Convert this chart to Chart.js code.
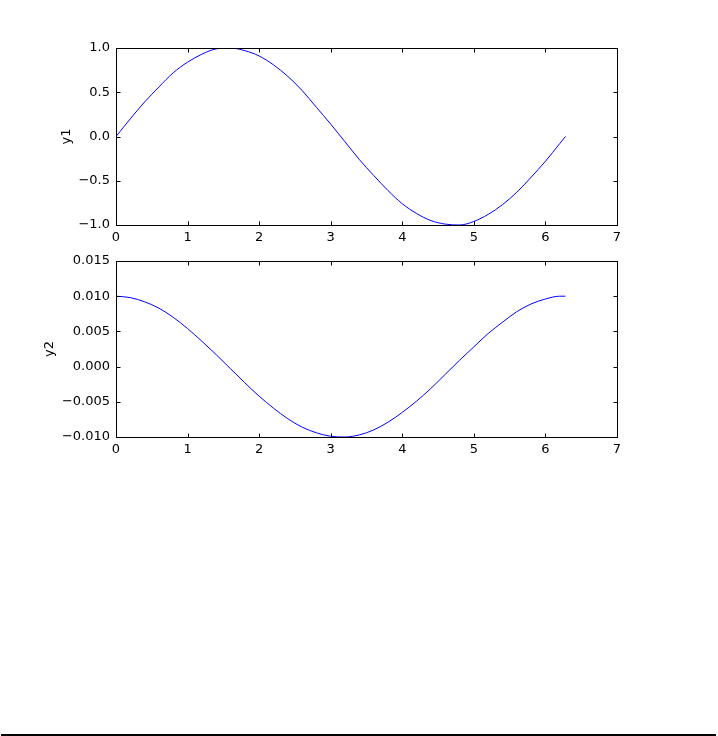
<!DOCTYPE html>
<html>
<head>
<meta charset="utf-8">
<script src="https://cdn.jsdelivr.net/npm/chart.js@4/dist/chart.umd.min.js"></script>
<style>
  html, body { margin: 0; padding: 0; background: #fff; }
  #wrap { position: relative; width: 718px; height: 736px; overflow: hidden; background: #fff; }
  #c1 { position: absolute; left: 0; top: 0; }
  #c2 { position: absolute; left: 0; top: 245px; }
  #rule { position: absolute; left: 1px; top: 734px; width: 715px; height: 2px; background: #000; }
</style>
</head>
<body>
<div id="wrap">
  <canvas id="c1" width="718" height="245"></canvas>
  <canvas id="c2" width="718" height="230"></canvas>
  <div id="rule"></div>
</div>
<script>
// ---- data ----
const xValues = [0, 0.2, 0.4, 0.6, 0.8, 1.0, 1.2, 1.4, 1.6, 1.8, 2.0, 2.2, 2.4, 2.6, 2.8, 3.0,
                 3.2, 3.4, 3.6, 3.8, 4.0, 4.2, 4.4, 4.6, 4.8, 5.0, 5.2, 5.4, 5.6, 5.8, 6.0, 6.2, 6.28];
const y1Values = [0.00, 0.20, 0.39, 0.56, 0.72, 0.84, 0.93, 0.99, 1.00, 0.97, 0.91, 0.81, 0.68, 0.52, 0.33, 0.14,
                  -0.06, -0.26, -0.44, -0.61, -0.76, -0.87, -0.95, -0.99, -1.00, -0.96, -0.88, -0.77, -0.63, -0.46, -0.28, -0.08, 0.00];
const y2Values = [0.0100, 0.0098, 0.0092, 0.0083, 0.0070, 0.0054, 0.0036, 0.0017, -0.0003, -0.0023, -0.0042, -0.0059, -0.0074, -0.0086, -0.0094, -0.0099,
                  -0.0100, -0.0097, -0.0090, -0.0079, -0.0065, -0.0049, -0.0031, -0.0011, 0.0009, 0.0028, 0.0047, 0.0063, 0.0078, 0.0089, 0.0096, 0.0100, 0.0100];
const xTickLabels = ['0', '1', '2', '3', '4', '5', '6', '7'];
const y1TickLabels = ['\u22121.0', '\u22120.5', '0.0', '0.5', '1.0'];
const y2TickLabels = ['\u22120.010', '\u22120.005', '0.000', '0.005', '0.010', '0.015'];
const y1Label = 'y1';
const y2Label = 'y2';

const FONT = { family: 'DejaVu Sans', size: 13 };

// inward ticks on all four sides + frame
const framePlugin = {
  id: 'frame',
  afterDraw(chart) {
    const ctx = chart.ctx;
    const a = chart.chartArea;
    const L = Math.round(a.left) + 0.5, R = Math.round(a.right) + 0.5;
    const T = Math.round(a.top) + 0.5, B = Math.round(a.bottom) + 0.5;
    ctx.save();
    ctx.strokeStyle = '#000';
    ctx.lineWidth = 1;
    const tl = 4;
    ctx.beginPath();
    const xs = chart.scales.x, ys = chart.scales.y;
    xs.ticks.forEach(t => {
      const px = Math.round(xs.getPixelForValue(t.value)) + 0.5;
      ctx.moveTo(px, B); ctx.lineTo(px, B - tl);
      ctx.moveTo(px, T); ctx.lineTo(px, T + tl);
    });
    ys.ticks.forEach(t => {
      const py = Math.round(ys.getPixelForValue(t.value)) + 0.5;
      ctx.moveTo(L, py); ctx.lineTo(L + tl, py);
      ctx.moveTo(R, py); ctx.lineTo(R - tl, py);
    });
    ctx.stroke();
    ctx.strokeRect(L, T, R - L, B - T);
    ctx.restore();
  }
};

function makeChart(id, yData, yMin, yMax, yStep, yLabels, yTitle, titlePad, padTop, xAxisH) {
  return new Chart(document.getElementById(id), {
    type: 'line',
    data: {
      datasets: [{
        data: xValues.map((x, i) => ({ x: x, y: yData[i] })),
        borderColor: '#0000ff',
        borderWidth: 1,
        pointRadius: 0,
        fill: false,
        cubicInterpolationMode: 'monotone'
      }]
    },
    options: {
      responsive: false,
      animation: false,
      events: [],
      layout: { padding: { left: 0, top: padTop, right: 101, bottom: 0 } },
      plugins: { legend: { display: false }, tooltip: { enabled: false } },
      scales: {
        x: {
          type: 'linear', min: 0, max: 7,
          afterFit(s) { s.height = xAxisH; },
          ticks: {
            stepSize: 1, color: '#000', font: FONT, padding: 5, maxRotation: 0,
            callback: (v) => xTickLabels[Math.round(v)]
          },
          grid: { display: false, drawTicks: false },
          border: { display: false }
        },
        y: {
          type: 'linear', min: yMin, max: yMax,
          afterFit(s) { s.width = 116; },
          ticks: {
            stepSize: yStep, color: '#000', font: FONT, padding: 6,
            callback: (v) => yLabels[Math.round((v - yMin) / yStep)]
          },
          title: { display: true, text: yTitle, color: '#000', font: FONT, padding: { top: titlePad, bottom: 0 } },
          grid: { display: false, drawTicks: false },
          border: { display: false }
        }
      }
    },
    plugins: [framePlugin]
  });
}

makeChart('c1', y1Values, -1, 1, 0.5, y1TickLabels, y1Label, 59, 48, 20);
makeChart('c2', y2Values, -0.01, 0.015, 0.005, y2TickLabels, y2Label, 42, 16, 38);
</script>
</body>
</html>
